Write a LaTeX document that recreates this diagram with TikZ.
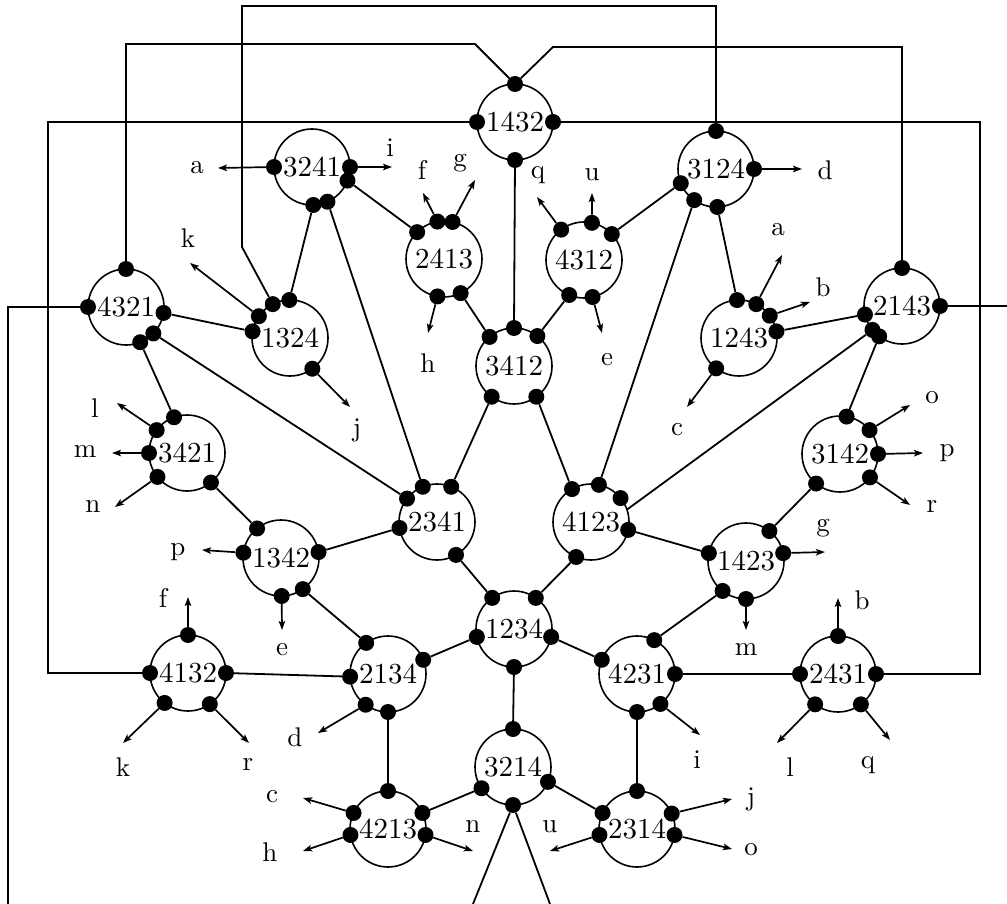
\documentclass[tikz,border=0pt]{standalone}
\usepackage{fontspec}
\setmainfont{lmroman10-regular.otf}
\usetikzlibrary{arrows.meta}
\begin{document}
\begin{tikzpicture}[x=1pt,y=-1pt,
  vert/.style={circle,draw,line width=1.6pt,minimum size=76pt,inner sep=0pt,outer sep=0pt,
    font=\fontsize{29}{29}\selectfont},
  dot/.style={circle,fill,inner sep=0pt,minimum size=16pt},
  wire/.style={line width=1.8pt},
  arr/.style={line width=1.7pt,-{Stealth[length=9pt,width=6.5pt,inset=2pt]}},
  lbl/.style={font=\fontsize{27}{27}\selectfont,inner sep=0pt}]
\useasboundingbox (0,0) rectangle (1007,904);

% permutation vertices
\foreach \n/\x/\y in {1432/515/122, 3241/312/167, 3124/716/169, 2413/444/259,
    4312/584/260, 4321/126/307, 1324/290/338, 1243/739/338, 2143/902/306,
    3412/514/366, 3421/187/453, 3142/840/454, 2341/437/522, 4123/591/522,
    1342/281/558, 1423/746/561, 1234/514/629, 4132/188/673, 2134/388/674,
    4231/637/674, 2431/838/674, 3214/513/767, 4213/388/829, 2314/637/829}
  \node[vert] (v\n) at (\x,\y) {\n};

% ports on the circles
\foreach \v/\k/\a in {1432/t/90, 1432/l/180, 1432/r/0, 1432/b/270,
    3241/l/180, 3241/r/0, 3241/s/339, 3241/p/272, 3241/q/294,
    3124/t/90, 3124/r/0, 3124/l/202, 3124/p/235, 3124/q/272,
    2413/w/135, 2413/f/100, 2413/g/77, 2413/h/260, 2413/q/296,
    4312/q/127, 4312/u/78, 4312/r/43, 4312/p/247, 4312/e/283,
    4321/t/90, 4321/l/180, 4321/r/351, 4321/p/316, 4321/q/292,
    1324/t/91, 1324/u/117, 1324/k/145, 1324/l/170, 1324/j/306,
    1243/t/93, 1243/a/63, 1243/b/36, 1243/r/10, 1243/c/233,
    2143/t/90, 2143/r/0, 2143/l/193, 2143/p/219, 2143/q/233,
    3412/t/90, 3412/l/130, 3412/r/52, 3412/p/234, 3412/q/306,
    3421/t/110, 3421/l/143, 3421/m/180, 3421/n/219, 3421/q/309,
    3142/t/80, 3142/o/39, 3142/p/0, 3142/r/322, 3142/q/231,
    2341/t/112, 2341/r/68, 2341/l/142, 2341/w/189, 2341/q/300,
    4123/l/120, 4123/t/78, 4123/x/39, 4123/r/348, 4123/q/247,
    1342/t/129, 1342/p/172, 1342/r/9, 1342/e/271, 1342/q/305,
    1423/l/168, 1423/t/52, 1423/g/12, 1423/q/232, 1423/m/270,
    1234/l/125, 1234/r/55, 1234/w/192, 1234/e/348, 1234/b/270,
    4132/f/90, 4132/l/180, 4132/r/0, 4132/k/232, 4132/q/305,
    2134/t/125, 2134/r/22, 2134/l/184, 2134/d/234, 2134/b/270,
    4231/t/63, 4231/l/158, 4231/r/0, 4231/i/308, 4231/b/270,
    2431/b/90, 2431/l/180, 2431/r/0, 2431/p/233, 2431/q/307,
    3214/t/90, 3214/r/337, 3214/l/214, 3214/b/270,
    4213/t/90, 4213/c/155, 4213/h/189, 4213/r/25, 4213/n/351,
    2314/t/90, 2314/l/155, 2314/u/189, 2314/j/24, 2314/o/351}
  \node[dot] (v\v\k) at (v\v.\a) {};

% bends of the long wires
\coordinate (bendL) at (475,44);
\coordinate (bendR) at (553,47);
\coordinate (bendW) at (48,122);
\coordinate (bendE) at (980,122);
\coordinate (bendN) at (242,6);
\coordinate (bendK) at (242,247);
\coordinate (edgeW) at (8,904);
\coordinate (edgeE) at (1007,306);
\coordinate (edgeS1) at (473,904);
\coordinate (edgeS2) at (550,904);

\begin{scope}[wire]
  \draw (v1432t) -- (bendL) -| (v4321t);
  \draw (v1432t) -- (bendR) -| (v2143t);
  \draw (v1432l) -- (bendW) |- (v4132l);
  \draw (v1432r) -- (bendE) |- (v2431r);
  \draw (v3124t) |- (bendN) -- (bendK) -- (v1324u);
  \draw (v4321l) -| (edgeW);
  \draw (v2143r) -- (edgeE);
  \draw (v3214b) -- (edgeS1);
  \draw (v3214b) -- (edgeS2);

  \foreach \a/\b in {1432b/3412t, 3241s/2413w, 3241p/1324t, 3241q/2341t,
      2413q/3412l, 4312r/3124l, 4312p/3412r, 3124p/4123t, 3124q/1243t,
      1243r/2143l, 2143q/3142t, 4321r/1324l, 4321p/2341l, 4321q/3421t,
      3412p/2341r, 3412q/4123l, 3421q/1342t, 3142q/1423t, 2341w/1342r,
      2341q/1234l, 4123r/1423l, 4123q/1234r, 1342q/2134t, 1423q/4231t,
      1234w/2134r, 1234e/4231l, 1234b/3214t, 4132r/2134l, 2134b/4213t,
      4231r/2431l, 4231b/2314t, 3214r/2314l, 3214l/4213r}
    \draw (v\a) -- (v\b);
  \draw (v4123.19) -- (v2143p);
\end{scope}

% dangling labelled arrows
\foreach \d/\x/\y/\t/\lx/\ly [count=\i] in {
    3241l/218/168/a/197/168, 3241r/392/167/i/390/148,
    2413f/423/193/f/422/170, 2413g/475/180/g/460/163, 2413h/428/333/h/428/363,
    4312q/537/197/q/538/175, 4312u/592/193/u/592/175, 4312e/602/333/e/607/360,
    3124r/802/169/d/825/170,
    1243a/782/255/a/778/230, 1243b/810/302/b/823/287, 1243c/687/407/c/677/430,
    1324k/190/263/k/188/238, 1324j/350/407/j/357/430,
    3421l/117/403/l/95/408, 3421m/112/453/m/85/452, 3421n/115/507/n/93/507,
    3142o/910/405/o/932/398, 3142p/923/453/p/947/453, 3142r/910/505/r/932/507,
    1342p/202/550/p/178/552, 1342e/282/630/e/282/650,
    1423g/825/552/g/823/528, 1423m/746/630/m/746/650,
    4132f/188/597/f/163/598, 4132k/123/743/k/123/767, 4132q/249/743/r/248/765,
    2134d/318/733/d/295/737, 4231i/700/735/i/697/760,
    2431b/838/598/b/862/600, 2431p/777/743/l/790/767, 2431q/890/740/q/868/765,
    4213c/303/798/c/272/797, 4213h/303/851/h/270/852, 4213n/473/851/n/473/827,
    2314u/550/851/u/550/827, 2314j/732/799/j/751/799, 2314o/732/849/o/751/850}
{
  \coordinate (tip\i) at (\x,\y);
  \draw[arr] (v\d) -- (tip\i);
  \node[lbl] (lab\i) at (\lx,\ly) {\t};
}
\end{tikzpicture}
\end{document}
